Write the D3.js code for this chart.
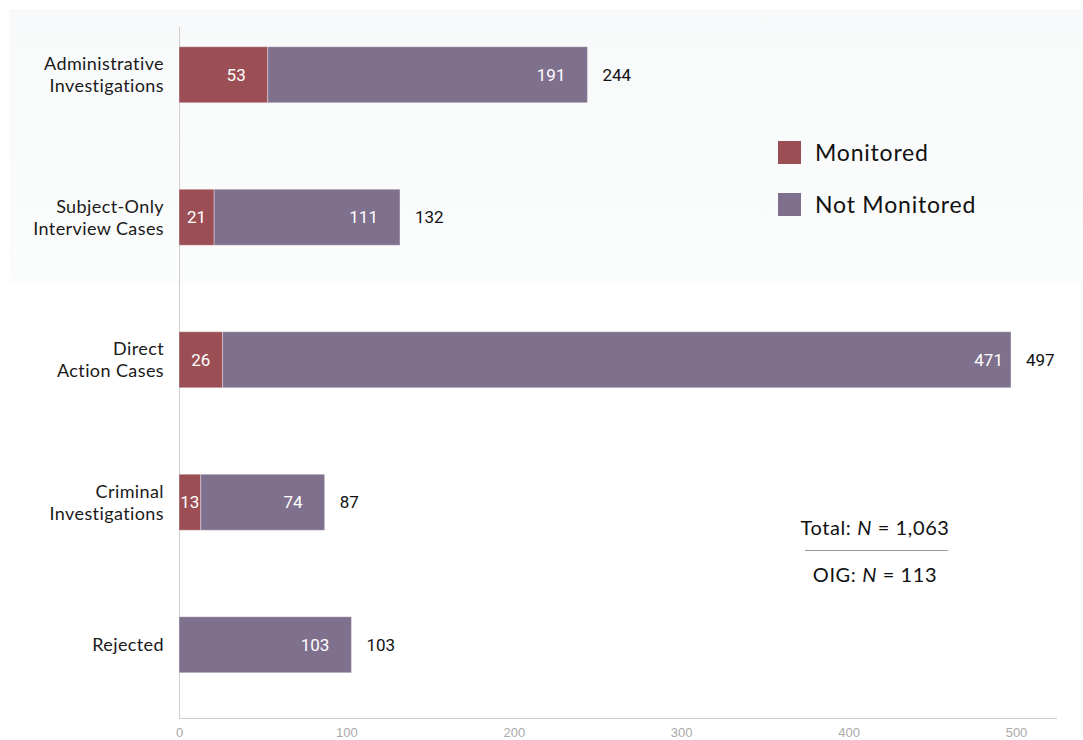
<!DOCTYPE html>
<html>
<head>
<meta charset="utf-8">
<script src="https://cdn.jsdelivr.net/npm/d3@7"></script>
<style>
  html, body { margin: 0; padding: 0; background: #ffffff; }
  svg { display: block; }
</style>
</head>
<body>
<svg id="chart" width="1083" height="740"></svg>
<script>
// Case categories (two-line labels) and counts per monitoring status
const categories = [
  ["Administrative", "Investigations"],
  ["Subject-Only", "Interview Cases"],
  ["Direct", "Action Cases"],
  ["Criminal", "Investigations"],
  ["Rejected"]
];
const monitored    = [53, 21, 26, 13, 0];
const notMonitored = [191, 111, 471, 74, 103];
const totals       = [244, 132, 497, 87, 103];
const seriesNames  = ["Monitored", "Not Monitored"];
const xTicks       = [0, 100, 200, 300, 400, 500];
const noteTotal    = "1,063";
const noteOIG      = "113";

const colors = ["#9b4f55", "#7f708e"];
const labelFont = "Lato, 'Open Sans', sans-serif";
const numFont = "Roboto, Arial, sans-serif";

const svg = d3.select("#chart");

// light shaded panel behind the upper part of the chart
const defs = svg.append("defs");
const grad = defs.append("linearGradient").attr("id", "panelGrad")
  .attr("x1", 0).attr("y1", 0).attr("x2", 0).attr("y2", 1);
grad.append("stop").attr("offset", "0%").attr("stop-color", "#f8f9fa");
grad.append("stop").attr("offset", "100%").attr("stop-color", "#fbfcfc");
svg.append("rect")
  .attr("x", 9).attr("y", 9).attr("width", 1074).attr("height", 276)
  .attr("fill", "url(#panelGrad)");

const x0 = 179, x1 = 1016;
const x = d3.scaleLinear().domain([0, 500]).range([x0, x1]);

const keys = categories.map((c, i) => i);
const y = d3.scaleBand().domain(keys).range([3.5, 716])
  .paddingInner(0.607).paddingOuter(0.3035);

// axes lines
svg.append("line")
  .attr("x1", x0 + 0.5).attr("x2", x0 + 0.5).attr("y1", 27).attr("y2", 718)
  .attr("stroke", "#cfcfcf").attr("stroke-width", 1);
svg.append("line")
  .attr("x1", x0).attr("x2", 1057).attr("y1", 718.5).attr("y2", 718.5)
  .attr("stroke", "#cfcfcf").attr("stroke-width", 1);

// x axis tick labels
const xAxis = d3.axisBottom(x).tickValues(xTicks).tickSize(0).tickPadding(9);
const gx = svg.append("g").attr("transform", "translate(0,719)").call(xAxis);
gx.select(".domain").remove();
gx.selectAll("text")
  .attr("fill", "#aaaaaa")
  .attr("font-family", "'Liberation Sans Narrow', 'Arial Narrow', sans-serif")
  .attr("font-size", 13);

// stacked data
const rows = keys.map(i => ({ i, m: monitored[i], n: notMonitored[i], t: totals[i] }));
const stack = d3.stack().keys(["m", "n"])(rows);

const bh = y.bandwidth();
stack.forEach((layer, li) => {
  const g = svg.append("g");
  layer.forEach(seg => {
    const i = seg.data.i;
    const w = x(seg[1]) - x(seg[0]);
    if (w <= 0) return;
    g.append("rect")
      .attr("x", x(seg[0])).attr("y", y(i))
      .attr("width", w).attr("height", bh)
      .attr("fill", colors[li])
      .attr("stroke", "rgba(255,255,255,0.35)").attr("stroke-width", 1);
    const val = seg[1] - seg[0];
    const big = w > 60;
    const cx = big ? x(seg[1]) - (w > 500 ? 8 : 22) : (x(seg[0]) + x(seg[1])) / 2;
    g.append("text")
      .attr("x", cx).attr("y", y(i) + bh / 2)
      .attr("dy", "0.36em")
      .attr("text-anchor", big ? "end" : "middle")
      .attr("fill", "#ffffff")
      .attr("font-family", numFont).attr("font-size", 17)
      .text(val);
  });
});

// totals to the right of each bar
svg.append("g").selectAll("text").data(rows).join("text")
  .attr("x", d => x(d.t) + 15)
  .attr("y", d => y(d.i) + bh / 2)
  .attr("dy", "0.36em")
  .attr("fill", "#111")
  .attr("font-family", numFont).attr("font-size", 17)
  .text(d => d.t);

// category labels
const cl = svg.append("g");
categories.forEach((lines, i) => {
  const cy = y(i) + bh / 2;
  const lh = 22;
  const t = cl.append("text")
    .attr("text-anchor", "end")
    .attr("fill", "#1a1a1a")
    .attr("font-family", labelFont).attr("font-size", 18)
    .attr("letter-spacing", 0.4);
  lines.forEach((ln, k) => {
    t.append("tspan")
      .attr("x", 164)
      .attr("y", cy + (k - (lines.length - 1) / 2) * lh)
      .attr("dy", "0.35em")
      .text(ln);
  });
});

// legend
const lg = svg.append("g");
seriesNames.forEach((name, k) => {
  const ly = 141 + k * 52;
  lg.append("rect").attr("x", 778).attr("y", ly).attr("width", 23).attr("height", 23)
    .attr("fill", colors[k]);
  lg.append("text").attr("x", 815).attr("y", ly + 12).attr("dy", "0.36em")
    .attr("fill", "#111").attr("font-family", labelFont).attr("font-size", 23)
    .attr("letter-spacing", 0.8)
    .text(name);
});

// totals note
const note = svg.append("g").attr("font-family", labelFont).attr("font-size", 20)
  .attr("letter-spacing", 0.6)
  .attr("fill", "#111").attr("text-anchor", "middle");
const t1 = note.append("text").attr("x", 875).attr("y", 535);
t1.append("tspan").text("Total: ");
t1.append("tspan").attr("font-style", "italic").text("N");
t1.append("tspan").text(" = " + noteTotal);
note.append("line").attr("x1", 805).attr("x2", 948).attr("y1", 550.5).attr("y2", 550.5)
  .attr("stroke", "#999").attr("stroke-width", 1);
const t2 = note.append("text").attr("x", 875).attr("y", 582);
t2.append("tspan").text("OIG: ");
t2.append("tspan").attr("font-style", "italic").text("N");
t2.append("tspan").text(" = " + noteOIG);
</script>
</body>
</html>
